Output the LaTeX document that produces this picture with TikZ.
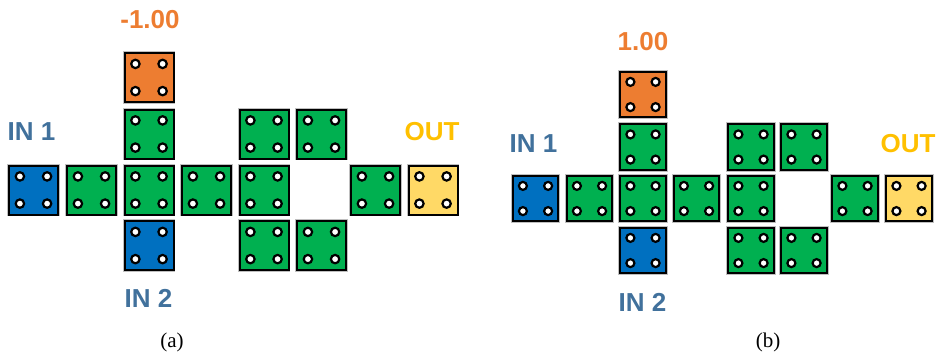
\documentclass[tikz,border=0pt]{standalone}
\usepackage{fontspec}
\setmainfont{Liberation Serif}
\newfontfamily\labelfont{Liberation Sans}
\usetikzlibrary{calc}

\definecolor{tileblue}{RGB}{0,112,192}
\definecolor{tilegreen}{RGB}{0,176,80}
\definecolor{tileorange}{RGB}{237,125,49}
\definecolor{tileyellow}{RGB}{255,217,102}
\definecolor{inblue}{RGB}{65,113,156}
\definecolor{outgold}{RGB}{255,192,0}

\begin{document}
\begin{tikzpicture}[x=1pt,y=-1pt,
  tile/.style={draw=black, line width=2pt, fill=#1, minimum size=\tilesz, inner sep=0pt,
    preaction={draw=black!25, line width=3.6pt}},
  hole/.style={draw=black, line width=2.2pt, fill=white},
  port/.style={font=\labelfont\bfseries\fontsize{26}{28}\selectfont},
  caption/.style={font=\fontsize{21}{23}\selectfont}]

\useasboundingbox (0,0) rectangle (936,354);

% Left layout: inverting weight
\begin{scope}
  \def\tilesz{49pt}
  \def\holeoff{13.6pt}
  \def\holer{4.2pt}
  \foreach \name/\x/\y/\col in {
    in1/33.5/190/tileblue,
    g1/91.5/190/tilegreen,
    g2/149/190/tilegreen,
    g3/206.5/190/tilegreen,
    g4/264/190/tilegreen,
    g5/149/134/tilegreen,
    bias/149/77.5/tileorange,
    in2/149/245.5/tileblue,
    g6/264/134/tilegreen,
    g7/321.5/134/tilegreen,
    g8/264/245.5/tilegreen,
    g9/321.5/245.5/tilegreen,
    g10/375.5/190/tilegreen,
    out/433/190/tileyellow} {
    \node [tile=\col] (a-\name) at (\x,\y) {};
    \foreach \dx in {-1,1} \foreach \dy in {-1,1}
      \draw [hole] ($(a-\name)+(\dx*\holeoff,\dy*\holeoff)$) circle (\holer);
  }

  \node [port, text=tileorange] (a-wlab) at (150,20) {-1.00};
  \node [port, text=inblue] (a-in1lab) at (31.5,132) {IN 1};
  \node [port, text=inblue] (a-in2lab) at (148.5,298) {IN 2};
  \node [port, text=outgold] (a-outlab) at (432,132) {OUT};
  \node [caption] (a-cap) at (172,342) {(a)};
\end{scope}

% Right layout: same cells, positive weight
\begin{scope}
  \def\tilesz{45.7pt}
  \def\holeoff{12.6pt}
  \def\holer{4pt}
  \foreach \name/\x/\y/\col in {
    in1/535.5/198.5/tileblue,
    g1/589.5/198.5/tilegreen,
    g2/643/198.5/tilegreen,
    g3/696.5/198.5/tilegreen,
    g4/751/198.5/tilegreen,
    g5/643/147/tilegreen,
    bias/643/94.5/tileorange,
    in2/643/250.5/tileblue,
    g6/751/147/tilegreen,
    g7/804/147/tilegreen,
    g8/751/250.5/tilegreen,
    g9/804/250.5/tilegreen,
    g10/855/198.5/tilegreen,
    out/909/198.5/tileyellow} {
    \node [tile=\col] (b-\name) at (\x,\y) {};
    \foreach \dx in {-1,1} \foreach \dy in {-1,1}
      \draw [hole] ($(b-\name)+(\dx*\holeoff,\dy*\holeoff)$) circle (\holer);
  }

  \node [port, text=tileorange] (b-wlab) at (643,42) {1.00};
  \node [port, text=inblue] (b-in1lab) at (533.5,144) {IN 1};
  \node [port, text=inblue] (b-in2lab) at (642.5,302) {IN 2};
  \node [port, text=outgold] (b-outlab) at (908,144) {OUT};
  \node [caption] (b-cap) at (768,342) {(b)};
\end{scope}
\end{tikzpicture}
\end{document}
